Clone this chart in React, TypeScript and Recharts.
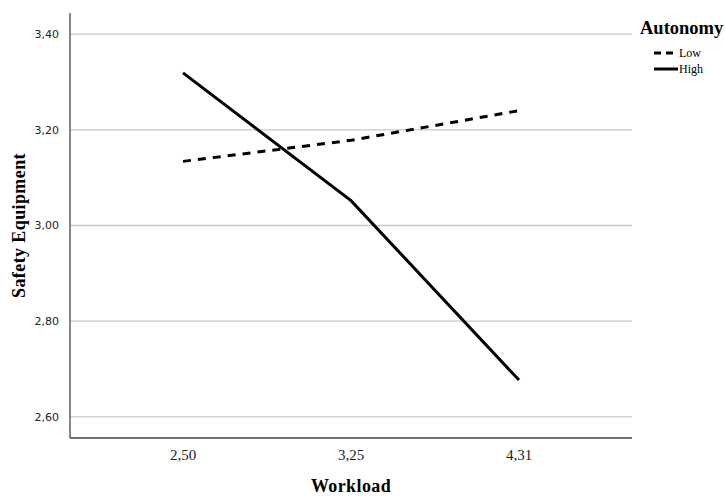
import React from "react";
import { LineChart, Line, XAxis, YAxis, CartesianGrid } from "recharts";

const workloadLabels = ["2,50", "3,25", "4,31"];
const lowAutonomy = [3.134, 3.178, 3.240];
const highAutonomy = [3.319, 3.052, 2.677];
const yTicks = [2.6, 2.8, 3.0, 3.2, 3.4];

const data = workloadLabels.map((w, i) => ({ w, low: lowAutonomy[i], high: highAutonomy[i] }));

const fmt = (v: number) => v.toFixed(2).replace(".", ",");

export default function App() {
  return (
    <div style={{ position: "absolute", left: 0, top: 0, width: 725, height: 496, background: "#fff" }}>
      <LineChart width={725} height={496} data={data} margin={{ top: 13, right: 93, bottom: 0, left: 0 }}>
        <CartesianGrid horizontal vertical={false} syncWithTicks stroke="#c8c8c8" strokeWidth={1.3} />
        <XAxis
          dataKey="w"
          padding={{ left: 113, right: 113 }}
          height={58}
          tickLine={false}
          axisLine={{ stroke: "#444", strokeWidth: 1.3 }}
          tick={{ fill: "#222", fontSize: 15, fontFamily: "Liberation Serif, serif" }}
          tickMargin={5}
          label={{ value: "Workload", position: "insideBottom", offset: 4, style: { fontFamily: "Liberation Serif, serif", fontWeight: "bold", fontSize: 18, letterSpacing: 0.4, fill: "#000" } }}
        />
        <YAxis
          width={70}
          domain={[2.556, 3.444]}
          ticks={yTicks}
          tickFormatter={fmt}
          tickLine={false}
          axisLine={{ stroke: "#444", strokeWidth: 1.3 }}
          tick={{ fill: "#222", fontSize: 11, fontFamily: "DejaVu Sans, sans-serif" }}
          tickMargin={5}
          label={{ value: "Safety Equipment", angle: -90, position: "insideLeft", offset: 19, style: { textAnchor: "middle", fontFamily: "Liberation Serif, serif", fontWeight: "bold", fontSize: 18, letterSpacing: 0.4, fill: "#000" } }}
        />
        <Line dataKey="low" stroke="#000" strokeWidth={3} strokeDasharray="8 7" dot={false} isAnimationActive={false} />
        <Line dataKey="high" stroke="#000" strokeWidth={3} dot={false} isAnimationActive={false} />
      </LineChart>
      <div style={{ position: "absolute", left: 640, top: 18, fontFamily: "Liberation Serif, serif", fontWeight: "bold", fontSize: 18.5, color: "#000" }}>
        Autonomy
      </div>
      <svg style={{ position: "absolute", left: 650, top: 44 }} width={75} height={34}>
        <line x1={4} y1={9} x2={28} y2={9} stroke="#000" strokeWidth={3} strokeDasharray="7 5" />
        <text x={29} y={13} fontFamily="Liberation Serif, serif" fontSize={12} fill="#000">Low</text>
        <line x1={4} y1={25} x2={28} y2={25} stroke="#000" strokeWidth={3} />
        <text x={29} y={29} fontFamily="Liberation Serif, serif" fontSize={12} fill="#000">High</text>
      </svg>
    </div>
  );
}
